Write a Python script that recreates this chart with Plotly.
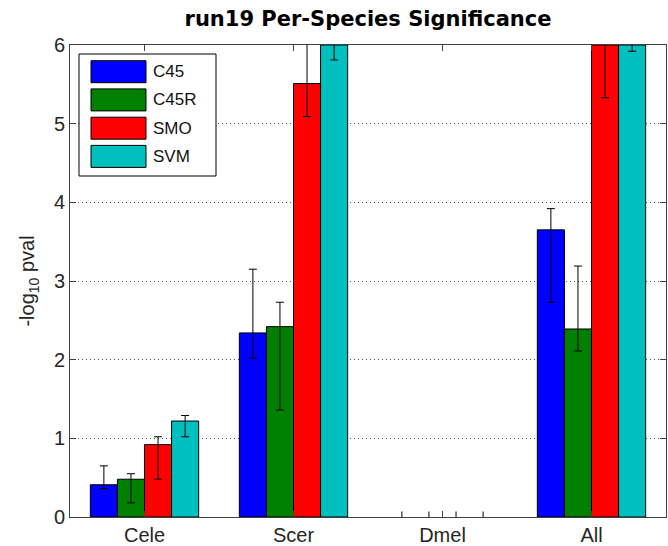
import plotly.graph_objects as go

# ---------------- data ----------------
categories = ["Cele", "Scer", "Dmel", "All"]
series_names = ["C45", "C45R", "SMO", "SVM"]
series_colors = ["#0000FF", "#007F00", "#FF0000", "#00BFBF"]

c45_val = [0.41, 2.34, 0.0, 3.65]
c45_lo = [0.36, 2.02, -0.07, 2.73]
c45_hi = [0.65, 3.15, 0.07, 3.92]

c45r_val = [0.48, 2.42, 0.0, 2.39]
c45r_lo = [0.18, 1.36, -0.07, 2.11]
c45r_hi = [0.55, 2.73, 0.07, 3.19]

smo_val = [0.92, 5.51, 0.0, 6.0]
smo_lo = [0.48, 5.09, -0.07, 5.33]
smo_hi = [1.02, 6.30, 0.07, 6.08]

svm_val = [1.22, 6.0, 0.0, 6.0]
svm_lo = [1.02, 5.81, -0.07, 5.92]
svm_hi = [1.29, 6.10, 0.07, 6.08]

y_ticks = [0, 1, 2, 3, 4, 5, 6]

values = [c45_val, c45r_val, smo_val, svm_val]
lows = [c45_lo, c45r_lo, smo_lo, svm_lo]
highs = [c45_hi, c45r_hi, smo_hi, svm_hi]

FONT = "Liberation Sans, Arial, Helvetica, sans-serif"
TFONT = "DejaVu Sans, Liberation Sans, sans-serif"
W, H = 668, 546
ML, MR, MT, MB = 70, 2, 45, 29
PW, PH = W - ML - MR, H - MT - MB

fig = go.Figure()

for i, name in enumerate(series_names):
    vals, lo, hi = values[i], lows[i], highs[i]
    idx = [k for k in range(len(categories)) if vals[k] > 0]
    zidx = [k for k in range(len(categories)) if vals[k] == 0]
    fig.add_trace(go.Bar(
        x=[categories[k] for k in idx],
        y=[vals[k] for k in idx],
        name=name,
        offsetgroup=str(i),
        marker=dict(color=series_colors[i], line=dict(color="black", width=1)),
        error_y=dict(type="data", symmetric=False,
                     array=[hi[k] - vals[k] for k in idx],
                     arrayminus=[vals[k] - lo[k] for k in idx],
                     color="black", thickness=1, width=4),
        showlegend=False,
    ))
    # zero-valued groups: error ticks only
    fig.add_trace(go.Bar(
        x=[categories[k] for k in zidx],
        y=[vals[k] for k in zidx],
        offsetgroup=str(i),
        marker=dict(color="rgba(0,0,0,0)", line=dict(width=0)),
        error_y=dict(type="data", symmetric=False,
                     array=[hi[k] - vals[k] for k in zidx],
                     arrayminus=[vals[k] - lo[k] for k in zidx],
                     color="black", thickness=1, width=0),
        showlegend=False, hoverinfo="skip",
    ))

# ---------------- custom legend (MATLAB style) ----------------
def px_x(px):
    return (px - ML) / PW

def px_y(py):
    return (H - MB - py) / PH

shapes = [dict(type="rect", xref="paper", yref="paper",
               x0=px_x(79), x1=px_x(216), y0=px_y(176), y1=px_y(54),
               line=dict(color="black", width=1), fillcolor="white", layer="above")]
annotations = []
row_centers = [71.7, 99.9, 128.2, 156.4]
for i, name in enumerate(series_names):
    cy = row_centers[i]
    shapes.append(dict(type="rect", xref="paper", yref="paper",
                       x0=px_x(91), x1=px_x(146), y0=px_y(cy + 11), y1=px_y(cy - 11),
                       line=dict(color="black", width=1),
                       fillcolor=series_colors[i], layer="above"))
    annotations.append(dict(xref="paper", yref="paper", x=px_x(151), y=px_y(cy),
                            text=name, showarrow=False, xanchor="left", yanchor="middle",
                            font=dict(family=FONT, size=17, color="#111111")))

fig.update_layout(
    width=W, height=H,
    margin=dict(l=ML, r=MR, t=MT, b=MB, pad=0),
    paper_bgcolor="white", plot_bgcolor="white",
    barmode="group", bargap=0.273, bargroupgap=0,
    font=dict(family=FONT, size=20, color="#262626"),
    title=dict(text="run19 Per-Species Significance", x=(ML + PW / 2) / W, xanchor="center",
               y=1 - 19 / H, yanchor="middle",
               font=dict(family=TFONT, size=21, color="black", weight="bold")),
    xaxis=dict(categoryorder="array", categoryarray=categories, automargin=False,
               showline=True, linecolor="#404040", linewidth=1, mirror="ticks",
               ticks="inside", ticklen=6, tickcolor="#404040",
               showgrid=False, zeroline=False,
               tickfont=dict(family=FONT, size=20, color="#262626")),
    yaxis=dict(range=[0, 6], tickvals=y_ticks, automargin=False,
               showline=True, linecolor="#404040", linewidth=1, mirror="ticks",
               ticks="inside", ticklen=6, tickcolor="#404040",
               showgrid=True, gridcolor="#555555", gridwidth=1, griddash="1px,3px",
               zeroline=False,
               tickfont=dict(family=FONT, size=20, color="#262626"),
               title=dict(text="-log<sub>10</sub> pval", standoff=13,
                          font=dict(family=FONT, size=20, color="#262626"))),
    shapes=shapes,
    annotations=annotations,
    showlegend=False,
)

fig.write_html("out.html")
